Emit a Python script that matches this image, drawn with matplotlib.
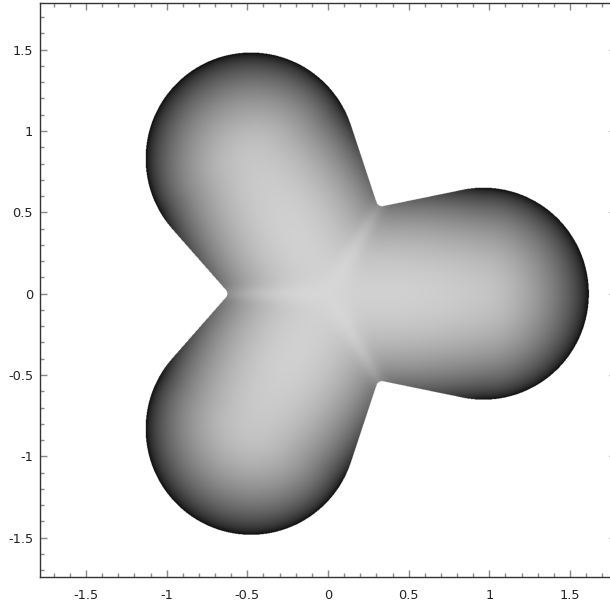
import numpy as np
import matplotlib
matplotlib.use("Agg")
import matplotlib.pyplot as plt
from matplotlib.path import Path
from matplotlib.ticker import MultipleLocator

# three round lobes spaced evenly about the origin
lobe_angles = [0.0, 120.0, 240.0]
lobe_dist = 0.96
lobe_radius = 0.652

# notches between neighbouring lobes
notch_angles = [60.0, 180.0, 300.0]
notch_dist = 0.615
notch_round = 0.035

tick_values = [-1.5, -1.0, -0.5, 0.0, 0.5, 1.0, 1.5]
tick_labels = ["-1.5", "-1", "-0.5", "0", "0.5", "1", "1.5"]
x_range = (-1.785, 1.785)
y_range = (-1.742, 1.787)

plt.rcParams['font.family'] = ['DejaVu Sans']


def unit(deg):
    t = np.radians(deg)
    return np.array([np.cos(t), np.sin(t)])


def tangent_point(p, c, r):
    # outer tangent point on circle (c, r) as seen from p
    v = c - p
    L = np.hypot(*v)
    t = np.sqrt(L**2 - r**2)
    a = np.arcsin(r / L)
    base = np.arctan2(v[1], v[0])
    pts = [p + t * np.array([np.cos(base + s * a), np.sin(base + s * a)]) for s in (1, -1)]
    return max(pts, key=lambda q: np.hypot(*q))


def fillet(p, t1, t2, r, n=12):
    # small arc that rounds off the notch corner at p
    u1 = (t1 - p) / np.hypot(*(t1 - p))
    u2 = (t2 - p) / np.hypot(*(t2 - p))
    half = np.arccos(np.clip(u1 @ u2, -1, 1)) / 2
    bis = (u1 + u2) / np.hypot(*(u1 + u2))
    centre = p + bis * r / np.sin(half)
    s1 = p + u1 * r / np.tan(half)
    s2 = p + u2 * r / np.tan(half)
    a1 = np.arctan2(s1[1] - centre[1], s1[0] - centre[0])
    a2 = np.arctan2(s2[1] - centre[1], s2[0] - centre[0])
    d = (a2 - a1 + np.pi) % (2 * np.pi) - np.pi
    ang = a1 + np.linspace(0, d, n)
    return centre + r * np.column_stack([np.cos(ang), np.sin(ang)])


centres = [lobe_dist * unit(a) for a in lobe_angles]

# outline: tangent lines from each notch to its two neighbour lobes
verts = []
for phi in notch_angles:
    p = notch_dist * unit(phi)
    c_lo = lobe_dist * unit(phi - 60)
    c_hi = lobe_dist * unit(phi + 60)
    t_lo = tangent_point(p, c_lo, lobe_radius)
    t_hi = tangent_point(p, c_hi, lobe_radius)
    verts.append(t_lo)
    verts.extend(fillet(p, t_lo, t_hi, notch_round))
    verts.append(t_hi)
verts = np.array(verts)
core = Path(np.vstack([verts, verts[:1]]), closed=True)

n = 1300
xs = np.linspace(-1.8, 1.8, n)
ys = np.linspace(-1.8, 1.8, n)
X, Y = np.meshgrid(xs, ys)

inside = core.contains_points(np.column_stack([X.ravel(), Y.ravel()])).reshape(X.shape)
for c in centres:
    inside |= (X - c[0])**2 + (Y - c[1])**2 <= lobe_radius**2

# height field: one stretched cap per lobe, blended with a soft maximum
tau = 0.06
stretch = 2.5
widen = 0.15
caps = []
for a_deg in lobe_angles:
    e = unit(a_deg)
    nrm = unit(a_deg + 90)
    a = X * e[0] + Y * e[1] - lobe_dist
    b = X * nrm[0] + Y * nrm[1]
    sa = np.where(a >= 0, a / lobe_radius, a / (stretch * lobe_radius))
    sb = b / (lobe_radius * (1 + widen * np.clip(-a, 0, None)))
    caps.append(1 - sa**2 - sb**2)
caps = np.array(caps)
m = caps.max(axis=0)
G = m + tau * np.log(np.exp((caps - m) / tau).sum(axis=0))

h = 1.15 * lobe_radius * np.sqrt(np.clip(G, 0, None))
gy, gx = np.gradient(h, ys[1] - ys[0], xs[1] - xs[0])
nz = 1 / np.sqrt(1 + gx**2 + gy**2)
shade = 0.84 * nz * (1 - 0.22 * (X**2 + Y**2) / 1.6**2)
shade[G <= 0] = 0
shade = np.clip(shade, 0, 1)

img = np.dstack([shade, shade, shade, inside.astype(float)])

fig = plt.figure(figsize=(6.1, 6.05), dpi=100)
ax = fig.add_axes([40 / 610, 28 / 605, 576 / 610, 574 / 605])
ax.imshow(img, extent=(xs[0], xs[-1], ys[0], ys[-1]), origin='lower',
          aspect='auto', interpolation='antialiased')

ax.set_xlim(*x_range)
ax.set_ylim(*y_range)
ax.set_xticks(tick_values)
ax.set_xticklabels(tick_labels)
ax.set_yticks(tick_values)
ax.set_yticklabels(tick_labels)
ax.xaxis.set_minor_locator(MultipleLocator(0.1))
ax.yaxis.set_minor_locator(MultipleLocator(0.1))
ax.tick_params(which='both', direction='in', top=True, right=True,
               color='#888888', width=1.0, labelsize=9.3, labelcolor='#222222')
ax.tick_params(which='major', length=5)
ax.tick_params(which='minor', length=3)
ax.tick_params(axis='x', pad=8.5)
ax.tick_params(axis='y', pad=5)
for s in ax.spines.values():
    s.set_color('#333333')
    s.set_linewidth(1.0)

fig.savefig('out.png', dpi=100)
